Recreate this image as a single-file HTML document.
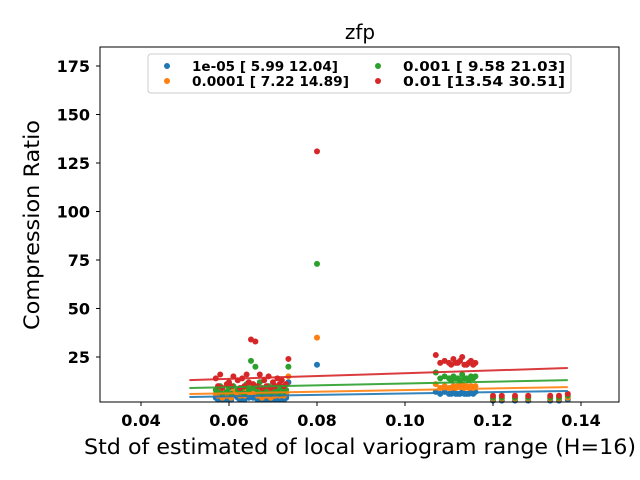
<!DOCTYPE html>
<html><head><meta charset="utf-8"><style>
body{margin:0;background:#fff;}
svg{display:block;font-family:"DejaVu Sans","Liberation Sans",sans-serif;}
</style></head><body>
<svg id="c" width="640" height="480">
<rect x="0" y="0" width="640" height="480" fill="#fff"/>
<text x="360" y="39" font-size="20" text-anchor="middle">zfp</text>
<g id="plot"></g>
<rect x="100" y="47" width="519" height="355" fill="none" stroke="#000" stroke-width="1"/>
<g id="axes"></g>
<text x="360" y="454" font-size="21.5" text-anchor="middle" textLength="552" lengthAdjust="spacingAndGlyphs">Std of estimated of local variogram range (H=16)</text>
<text transform="translate(39,225) rotate(-90)" font-size="21.5" text-anchor="middle" textLength="210" lengthAdjust="spacingAndGlyphs">Compression Ratio</text>
<g>
<rect x="148" y="54" width="423" height="39" fill="#fff" stroke="#ccc" rx="3"/>
<g id="leg"></g>
</g>
</svg>
<script>
const xs=[0.057,0.058,0.060,0.061,0.062,0.063,0.064,0.065,0.066,0.067,0.068,0.069,0.070,0.071,0.072,0.073,0.0735,0.080,0.107,0.109,0.110,0.111,0.112,0.113,0.114,0.115,0.116,0.120,0.122,0.125,0.128,0.133,0.135,0.137];
const yRed=[14,16,12,15,13,14,16,34,33,16,13,15,12,14,13,11,24,131,26,23,22,24,22,25,21,23,22,5,5,5,5,5,5,6];
const yGreen=[8,10,9,10,8,9,11,23,20,12,8,10,9,8,9,8,20,73,17,15,14,15,14,16,14,15,15,4,4,4,4,4,4,5];
const yOrange=[6,7,6,7,6,7,8,11,9,8,6,7,6,6,7,6,15,35,11,10,9,10,10,11,10,10,10,3.5,3.5,3.5,3.5,3.5,3.5,4];
const yBlue=[4,5,4,5,4,5,5,7,6,5,4,5,4,4,5,4,12,21,7,7,6,7,6,7,6,7,7,2.5,2.5,2.5,2.5,2.5,2.5,3];
const xs2=[0.0575,0.0585,0.0595,0.0605,0.0625,0.0635,0.0645,0.0655,0.0665,0.0675,0.0685,0.0695,0.0705,0.0715,0.0725,0.108,0.1105,0.1115,0.1125,0.1135,0.1145,0.1155];
const yRed2=[10,9,11,10,9,10,12,11,10,9,10,9,10,11,10,22,21,22,23,21,22,21];
const yGreen2=[7,6,7,6,7,6,8,9,7,6,7,6,7,6,7,14,13,14,13,14,13,14];
const yOrange2=[5,4,5,4,5,5,6,7,5,4,5,4,5,5,5,9,9,9,10,9,9,9];
const yBlue2=[3,3,3,3,3,3,4,4,3,3,3,3,3,3,3,6,6,6,6,6,6,6];
const seriesNames=["1e-05 [ 5.99 12.04]","0.0001 [ 7.22 14.89]","0.001 [ 9.58 21.03]","0.01 [13.54 30.51]"];
const fitStart=[4.4,5.9,9.0,13.1];
const fitEnd=[7.5,9.5,13.1,19.3];
const fitX=[0.051,0.137];
const xTicks=[0.04,0.06,0.08,0.10,0.12,0.14];
const xTickLabels=["0.04","0.06","0.08","0.10","0.12","0.14"];
const yTicks=[25,50,75,100,125,150,175];
const colors=["#1f77b4","#ff7f0e","#2ca02c","#d62728"];
const ys=[yBlue,yOrange,yGreen,yRed];
const ys2=[yBlue2,yOrange2,yGreen2,yRed2];
const X=v=>141+(v-0.04)*4400;
const Y=v=>357-(v-25)*1.94;
const NS="http://www.w3.org/2000/svg";
function mk(t,a,p){const e=document.createElementNS(NS,t);for(const k in a)e.setAttribute(k,a[k]);p.appendChild(e);return e;}
const plot=document.getElementById('plot'),axes=document.getElementById('axes'),leg=document.getElementById('leg');
ys.forEach((arr,s)=>{
  const g=mk('g',{},plot);
  
  
  arr.forEach((v,i)=>{
    const c=mk('circle',{cx:X(xs[i]),cy:Y(v),r:3,fill:colors[s]},g);
    
    
  });
  ys2[s].forEach((v,i)=>{
    const c=mk('circle',{cx:X(xs2[i]),cy:Y(v),r:3,fill:colors[s]},g);
    
    
  });
});
ys.forEach((arr,s)=>{
  const l=mk('line',{x1:X(fitX[0]),y1:Y(fitStart[s]),x2:X(fitX[1]),y2:Y(fitEnd[s]),stroke:colors[s],'stroke-width':2,'stroke-opacity':0.9},plot);
  
  
});
xTicks.forEach((v,i)=>{
  const x=X(v);
  mk('line',{x1:x,x2:x,y1:402,y2:406,stroke:'#000'},axes);
  const t=mk('text',{x:x,y:426,'font-size':16,'font-weight':'bold','text-anchor':'middle'},axes);
  t.textContent=xTickLabels[i];
  
  
});
yTicks.forEach(v=>{
  const y=Y(v);
  mk('line',{x1:96,x2:100,y1:y,y2:y,stroke:'#000'},axes);
  const t=mk('text',{x:90,y:y+6,'font-size':16,'font-weight':'bold','text-anchor':'end'},axes);
  t.textContent=v;
  
  
});
const lpos=[[167,66],[167,81],[378,66],[378,81]];
const lw=[146,157,162,162];
seriesNames.forEach((n,s)=>{
  const [x,y]=lpos[s];
  mk('circle',{cx:x,cy:y,r:3,fill:colors[s]},leg);
  const t=mk('text',{x:x+25,y:y+5,'font-size':13,'font-weight':'bold',textLength:lw[s],lengthAdjust:'spacingAndGlyphs'},leg);
  t.textContent=n;
  
  
});
</script>
</body></html>
